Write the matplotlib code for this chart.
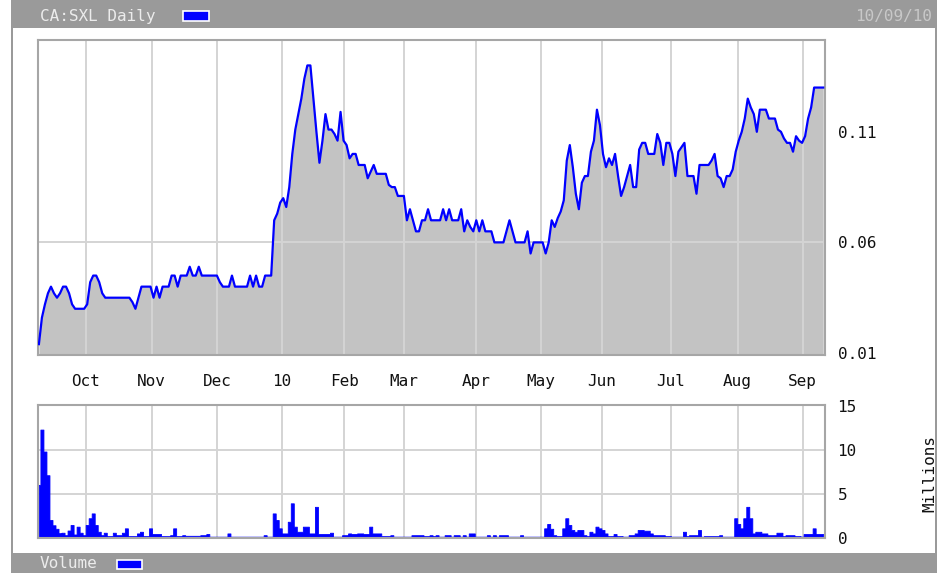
import numpy as np
import matplotlib
matplotlib.use("Agg")
import matplotlib.pyplot as plt
from matplotlib.patches import Rectangle

# daily closes for CA:SXL, one value per trading day
price = [
    0.014, 0.026, 0.032, 0.037, 0.040, 0.037, 0.035, 0.037, 0.040, 0.040,
    0.037, 0.032, 0.030, 0.030, 0.030, 0.030, 0.032, 0.042, 0.045, 0.045,
    0.042, 0.037, 0.035, 0.035, 0.035, 0.035, 0.035, 0.035, 0.035, 0.035,
    0.035, 0.033, 0.030, 0.035, 0.040, 0.040, 0.040, 0.040, 0.035, 0.040,
    0.035, 0.040, 0.040, 0.040, 0.045, 0.045, 0.040, 0.045, 0.045, 0.045,
    0.049, 0.045, 0.045, 0.049, 0.045, 0.045, 0.045, 0.045, 0.045, 0.045,
    0.042, 0.040, 0.040, 0.040, 0.045, 0.040, 0.040, 0.040, 0.040, 0.040,
    0.045, 0.040, 0.045, 0.040, 0.040, 0.045, 0.045, 0.045, 0.070, 0.073,
    0.078, 0.080, 0.076, 0.085, 0.100, 0.111, 0.118, 0.125, 0.134, 0.140,
    0.140, 0.125, 0.110, 0.096, 0.106, 0.118, 0.111, 0.111, 0.109, 0.106,
    0.119, 0.106, 0.104, 0.098, 0.100, 0.100, 0.095, 0.095, 0.095, 0.089,
    0.092, 0.095, 0.091, 0.091, 0.091, 0.091, 0.086, 0.085, 0.085, 0.081,
    0.081, 0.081, 0.070, 0.075, 0.070, 0.065, 0.065, 0.070, 0.070, 0.075,
    0.070, 0.070, 0.070, 0.070, 0.075, 0.070, 0.075, 0.070, 0.070, 0.070,
    0.075, 0.065, 0.070, 0.067, 0.065, 0.070, 0.065, 0.070, 0.065, 0.065,
    0.065, 0.060, 0.060, 0.060, 0.060, 0.065, 0.070, 0.065, 0.060, 0.060,
    0.060, 0.060, 0.065, 0.055, 0.060, 0.060, 0.060, 0.060, 0.055, 0.060,
    0.070, 0.067, 0.071, 0.074, 0.079, 0.097, 0.104, 0.094, 0.082, 0.075,
    0.087, 0.090, 0.090, 0.101, 0.106, 0.120, 0.113, 0.100, 0.094, 0.098,
    0.095, 0.100, 0.090, 0.081, 0.085, 0.090, 0.095, 0.085, 0.085, 0.102,
    0.105, 0.105, 0.100, 0.100, 0.100, 0.109, 0.105, 0.095, 0.105, 0.105,
    0.100, 0.090, 0.101, 0.103, 0.105, 0.090, 0.090, 0.090, 0.082, 0.095,
    0.095, 0.095, 0.095, 0.097, 0.100, 0.090, 0.089, 0.085, 0.090, 0.090,
    0.093, 0.101, 0.106, 0.110, 0.116, 0.125, 0.121, 0.118, 0.110, 0.120,
    0.120, 0.120, 0.116, 0.116, 0.116, 0.111, 0.110, 0.107, 0.105, 0.105,
    0.101, 0.108, 0.106, 0.105, 0.108, 0.116, 0.121, 0.130, 0.130, 0.130, 0.130,
]

# daily volume, millions of shares
volume = [
    6.0, 12.3, 9.8, 7.1, 2.0, 1.4, 1.0, 0.5, 0.55, 0.27,
    0.8, 1.43, 0.35, 1.24, 0.55, 0.27, 1.43, 2.2, 2.75, 1.43,
    0.66, 0.27, 0.55, 0.16, 0.16, 0.55, 0.27, 0.27, 0.55, 1.05,
    0.16, 0.16, 0.16, 0.47, 0.66, 0.16, 0.16, 1.05, 0.4, 0.4,
    0.4, 0.16, 0.16, 0.16, 0.27, 1.05, 0.16, 0.16, 0.27, 0.2,
    0.2, 0.2, 0.2, 0.2, 0.27, 0.27, 0.4, 0.1, 0.1, 0.1,
    0.1, 0.1, 0.1, 0.47, 0.1, 0.1, 0.1, 0.1, 0.1, 0.1,
    0.1, 0.1, 0.1, 0.1, 0.1, 0.27, 0.1, 0.1, 2.75, 2.0,
    1.05, 0.47, 0.47, 1.8, 3.9, 1.24, 0.66, 0.66, 1.24, 1.24,
    0.47, 0.47, 3.5, 0.4, 0.4, 0.4, 0.4, 0.55, 0.1, 0.1,
    0.1, 0.27, 0.27, 0.47, 0.4, 0.4, 0.47, 0.47, 0.4, 0.4,
    1.24, 0.47, 0.47, 0.47, 0.16, 0.16, 0.16, 0.27, 0.1, 0.1,
    0.1, 0.1, 0.1, 0.1, 0.27, 0.27, 0.27, 0.27, 0.16, 0.16,
    0.27, 0.16, 0.27, 0.1, 0.1, 0.27, 0.27, 0.1, 0.27, 0.27,
    0.1, 0.27, 0.1, 0.47, 0.47, 0.1, 0.1, 0.1, 0.1, 0.27,
    0.1, 0.27, 0.1, 0.27, 0.27, 0.27, 0.1, 0.1, 0.1, 0.1,
    0.27, 0.1, 0.1, 0.1, 0.1, 0.1, 0.1, 0.1, 1.05, 1.55,
    1.0, 0.27, 0.16, 0.16, 1.05, 2.2, 1.43, 0.86, 0.66, 0.86,
    0.86, 0.27, 0.16, 0.66, 0.47, 1.24, 1.05, 0.86, 0.47, 0.16,
    0.16, 0.4, 0.16, 0.16, 0.1, 0.1, 0.27, 0.27, 0.47, 0.86,
    0.86, 0.78, 0.78, 0.47, 0.27, 0.27, 0.27, 0.27, 0.16, 0.16,
    0.1, 0.1, 0.1, 0.1, 0.66, 0.16, 0.27, 0.27, 0.27, 0.86,
    0.1, 0.16, 0.16, 0.16, 0.16, 0.16, 0.27, 0.1, 0.1, 0.1,
    0.1, 2.2, 1.55, 1.05, 2.2, 3.5, 2.2, 0.47, 0.66, 0.66,
    0.47, 0.47, 0.27, 0.27, 0.27, 0.55, 0.55, 0.16, 0.27, 0.27,
    0.27, 0.16, 0.16, 0.1, 0.4, 0.4, 0.4, 1.05, 0.4, 0.4, 0.4,
]

# trading-day index where each month starts
month_start = [15.6, 37.4, 59.0, 80.5, 101.2, 121.0, 144.8, 166.3, 186.6, 209.5, 231.6, 253.2]
month_labels = ['Oct', 'Nov', 'Dec', '10', 'Feb', 'Mar', 'Apr', 'May', 'Jun', 'Jul', 'Aug', 'Sep']
price_ticks = [0.01, 0.06, 0.11]
volume_ticks = [0, 5, 10, 15]

W, H = 946, 573
FONT = 'DejaVu Sans Mono'
GRID = '#d4d4d4'
FRAME = '#a6a6a6'
BAR = '#9a9a9a'


def box(x0, y0, x1, y1):
    # pixel box (top-left origin) -> figure fraction rect
    return [x0 / W, 1 - y1 / H, (x1 - x0) / W, (y1 - y0) / H]


fig = plt.figure(figsize=(W / 100, H / 100), dpi=100)
fig.patch.set_facecolor('white')

# outer frame: header, footer and side lines
for r in [box(12, 0, 936, 28), box(12, 553, 936, 573), box(11, 0, 13, 573), box(935, 0, 937, 573)]:
    fig.patches.append(Rectangle((r[0], r[1]), r[2], r[3], transform=fig.transFigure,
                                 facecolor=BAR, edgecolor='none', zorder=0))

fig.text(40 / W, 1 - 16 / H, 'CA:SXL Daily', family=FONT, fontsize=11.5, color='#ececec', va='center')
r = box(183, 11, 209, 21)
fig.patches.append(Rectangle((r[0], r[1]), r[2], r[3], transform=fig.transFigure,
                             facecolor='#0000ff', edgecolor='white', lw=1.2))
fig.text(932 / W, 1 - 16 / H, '10/09/10', family=FONT, fontsize=11.5, color='#c8c8c8', va='center', ha='right')

fig.text(40 / W, 1 - 564 / H, 'Volume', family=FONT, fontsize=11.5, color='#ececec', va='center')
r = box(117, 560, 142, 569)
fig.patches.append(Rectangle((r[0], r[1]), r[2], r[3], transform=fig.transFigure,
                             facecolor='#0000ff', edgecolor='white', lw=1.2))

x = np.arange(len(price))

# price panel
ax = fig.add_axes(box(38, 40, 825, 355))
ax.fill_between(x, price, 0, color='#c3c3c3', lw=0, zorder=1)
for m in month_start:
    ax.axvline(m, color=GRID, lw=1.4, zorder=2)
ax.axhline(0.06, color=GRID, lw=1.4, zorder=2)
ax.plot(x, price, color='#0000ff', lw=1.6, zorder=3)
ax.set_xlim(-0.3, 260.6)
ax.set_ylim(0.0091, 0.1515)
ax.yaxis.tick_right()
ax.set_yticks(price_ticks)
ax.set_yticklabels([f'{t:.2f}' for t in price_ticks])
ax.set_xticks(month_start)
ax.set_xticklabels(month_labels)
ax.tick_params(length=0, labelsize=11.5, colors='#111111')
ax.tick_params(axis='x', pad=14)
ax.tick_params(axis='y', pad=9)
for t in ax.get_xticklabels() + ax.get_yticklabels():
    t.set_family(FONT)
for s in ax.spines.values():
    s.set_color(FRAME)
    s.set_linewidth(1.5)

# volume panel
vx = fig.add_axes(box(38, 405, 825, 538))
for m in month_start:
    vx.axvline(m, color=GRID, lw=1.4, zorder=1)
for v in [5, 10]:
    vx.axhline(v, color=GRID, lw=1.4, zorder=1)
vx.fill_between(x, volume, 0, step='mid', facecolor='#0000ff', edgecolor='#0000ff', lw=0.6, zorder=2)
vx.set_xlim(-0.3, 260.6)
vx.set_ylim(-0.05, 15.1)
vx.set_xticks([])
vx.yaxis.tick_right()
vx.set_yticks(volume_ticks)
vx.tick_params(length=0, labelsize=11.5, colors='#111111', pad=9)
for t in vx.get_yticklabels():
    t.set_family(FONT)
for s in vx.spines.values():
    s.set_color(FRAME)
    s.set_linewidth(1.5)
fig.text(930 / W, 1 - 473 / H, 'Millions', family=FONT, fontsize=11.5, color='#111111',
         rotation=90, va='center', ha='center')

fig.savefig('out.png', dpi=100, facecolor='white')
